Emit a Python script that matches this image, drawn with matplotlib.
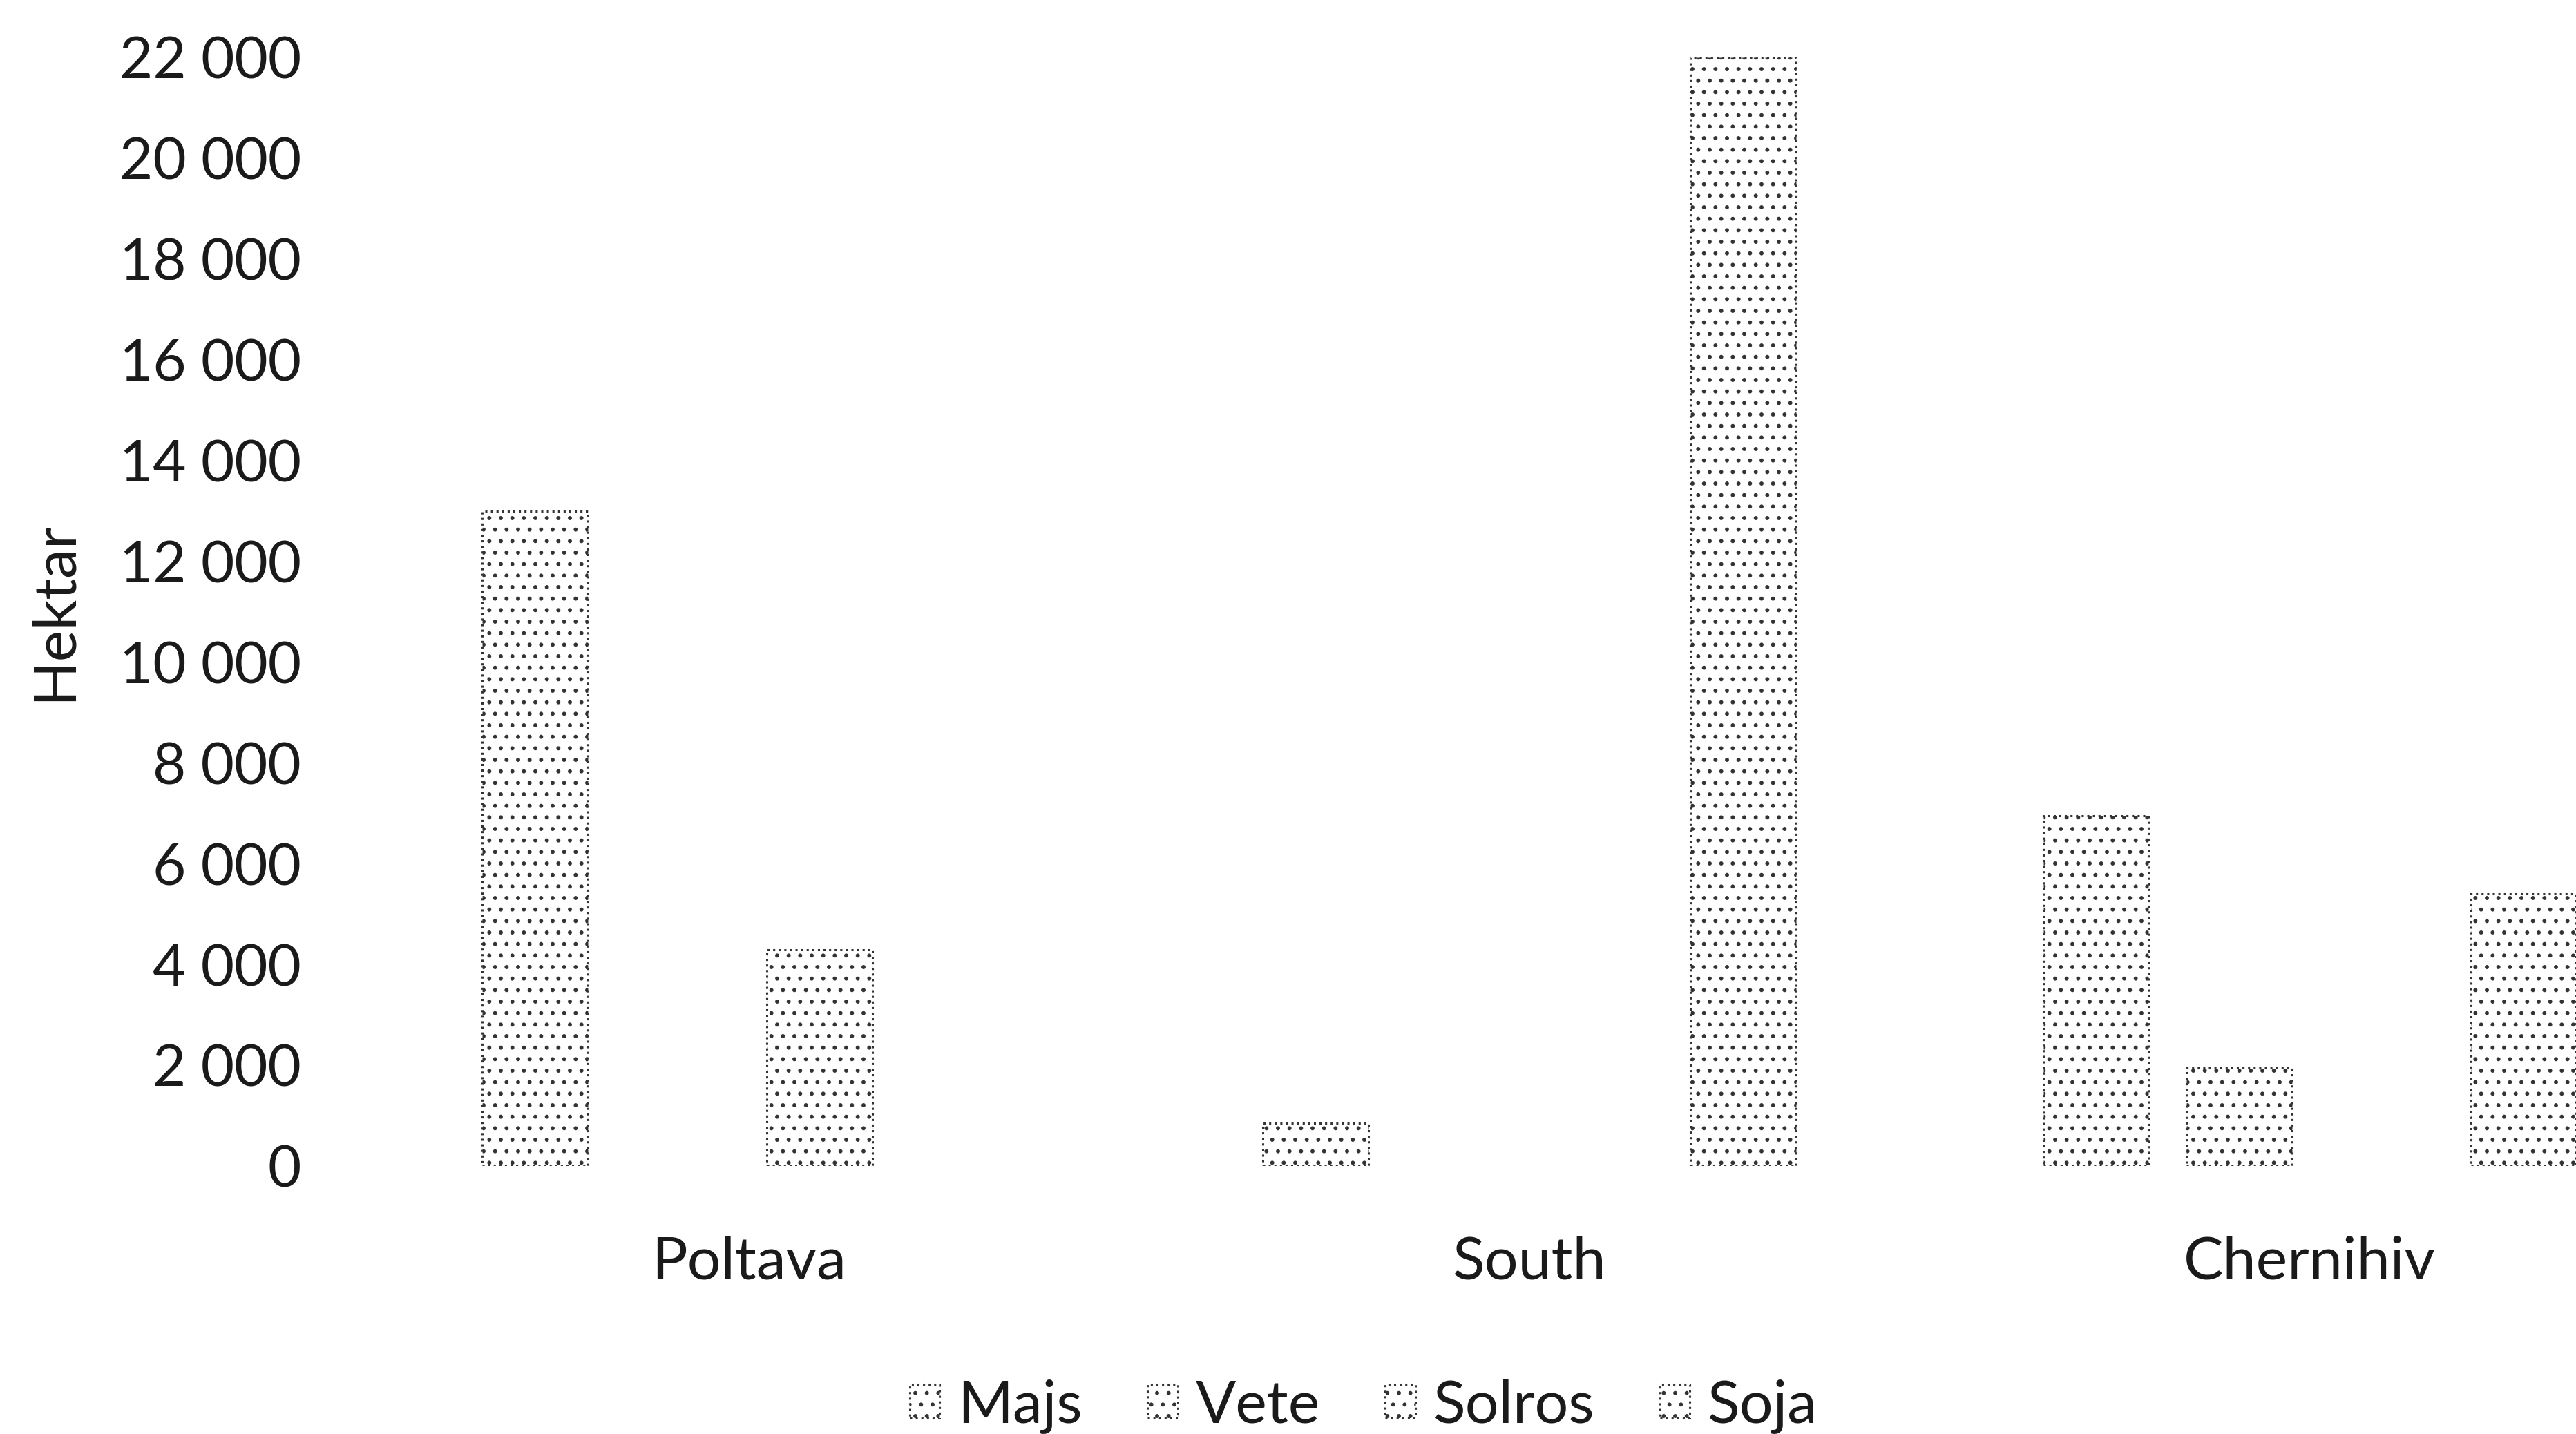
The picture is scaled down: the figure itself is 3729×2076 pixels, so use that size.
import matplotlib.pyplot as plt
import numpy as np

# data
regions = ['Poltava', 'South', 'Chernihiv']
crops = ['Majs', 'Vete', 'Solros', 'Soja']
majs = [13000, 850, 6950]
vete = [0, 0, 1950]
solros = [4300, 0, 0]
soja = [0, 22000, 5400]
yticks = np.arange(0, 22001, 2000)

plt.rcParams['font.family'] = ['Lato', 'DejaVu Sans']
plt.rcParams['hatch.color'] = '#444444'
plt.rcParams['hatch.linewidth'] = 1.8

fig = plt.figure(figsize=(37.29, 20.76), dpi=100)
# plot area runs past the right edge, as in the reference
ax = fig.add_axes([0.1393, 0.1867, 0.9088, 0.7732])

x = np.arange(len(regions))
offsets = [-0.274, -0.0905, 0.0905, 0.274]
width = 0.135
series = [majs, vete, solros, soja]
for vals, off, name in zip(series, offsets, crops):
    vals = np.array(vals, dtype=float)
    vals[vals == 0] = np.nan  # empty slots draw nothing
    ax.bar(x + off, vals, width, label=name, color='white',
           edgecolor='#333333', linewidth=2.2, linestyle=':', hatch='.')

ax.set_xlim(-0.5, 2.5)
ax.set_ylim(0, 22000)
ax.set_yticks(yticks)
ax.set_yticklabels([f'{v:,}'.replace(',', ' ') for v in yticks])
ax.set_xticks(x)
ax.set_xticklabels(regions)
ax.tick_params(axis='y', length=0, pad=60, labelsize=60, colors='#1a1a1a')
ax.tick_params(axis='x', length=0, pad=72, labelsize=62, colors='#1a1a1a')
for s in ax.spines.values():
    s.set_visible(False)

fig.text(33 / 1568, 1 - 372 / 873, 'Hektar', rotation=90, fontsize=62,
         ha='center', va='center', color='#1a1a1a')

fig.legend(loc='center', bbox_to_anchor=(830 / 1568, 1 - 856 / 873), ncol=4,
           frameon=False, fontsize=62, handlelength=0.5, handleheight=0.5,
           handletextpad=0.3, columnspacing=1.1, labelcolor='#1a1a1a')

fig.savefig('out.png', dpi=100)
